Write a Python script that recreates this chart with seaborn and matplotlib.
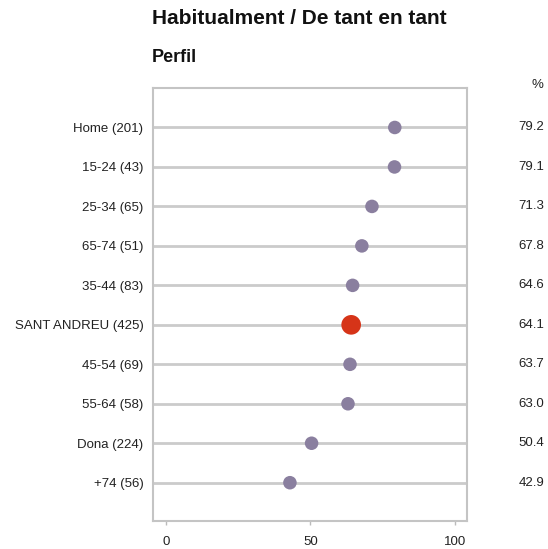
import matplotlib
matplotlib.use("Agg")
import matplotlib.pyplot as plt
import matplotlib.transforms as mtransforms
import seaborn as sns
import pandas as pd

categories = ["Home (201)", "15-24 (43)", "25-34 (65)", "65-74 (51)", "35-44 (83)",
              "SANT ANDREU (425)", "45-54 (69)", "55-64 (58)", "Dona (224)", "+74 (56)"]
values = [79.2, 79.1, 71.3, 67.8, 64.6, 64.1, 63.7, 63.0, 50.4, 42.9]
total_label = "SANT ANDREU (425)"
x_ticks = [0, 50, 100]

sns.set_style("white")
plt.rcParams["font.family"] = ["Liberation Sans", "DejaVu Sans"]

df = pd.DataFrame({"group": categories, "pct": values})
df["kind"] = ["total" if g == total_label else "group" for g in df["group"]]

fig = plt.figure(figsize=(5.48, 5.49), dpi=100)
ax = fig.add_axes([0.2792, 0.0510, 0.573, 0.7887])

grid_col = "#cbcbcb"
ax.set_axisbelow(True)
ax.yaxis.grid(True, color=grid_col, linewidth=2)

palette = {"group": "#8a7f9f", "total": "#d63418"}
sizes = {"group": 95, "total": 200}
sns.scatterplot(data=df, x="pct", y="group", hue="kind", size="kind",
                palette=palette, sizes=sizes, edgecolor="none",
                legend=False, ax=ax, zorder=3)

ax.set_xlim(-4.5, 104.2)
ax.set_ylim(9.97, -1.0)
ax.set_xticks(x_ticks)
ax.set_xticklabels([str(t) for t in x_ticks], fontsize=9.5, color="#222222")
ax.set_xlabel("")
ax.set_ylabel("")
ax.tick_params(axis="y", length=0, pad=7, labelsize=9.5, labelcolor="#222222")
ax.tick_params(axis="x", length=3, width=1, color="#bbbbbb", pad=8, bottom=True)

for s in ax.spines.values():
    s.set_color("#c4c4c4")
    s.set_linewidth(1.5)

# value column at the right
trans = mtransforms.blended_transform_factory(fig.transFigure, ax.transData)
for i, v in enumerate(values):
    ax.text(544 / 548, i, f"{v:.1f}", transform=trans, ha="right", va="center",
            fontsize=9.5, color="#222222")
fig.text(543 / 548, 1 - 85 / 549, "%", ha="right", va="center", fontsize=9.5, color="#222222")

fig.text(152 / 548, 1 - 19 / 549, "Habitualment / De tant en tant", ha="left", va="center",
         fontsize=15, fontweight="bold", color="#111111")
fig.text(152 / 548, 1 - 57 / 549, "Perfil", ha="left", va="center",
         fontsize=13, fontweight="bold", color="#111111")

fig.savefig("out.png", dpi=100)
